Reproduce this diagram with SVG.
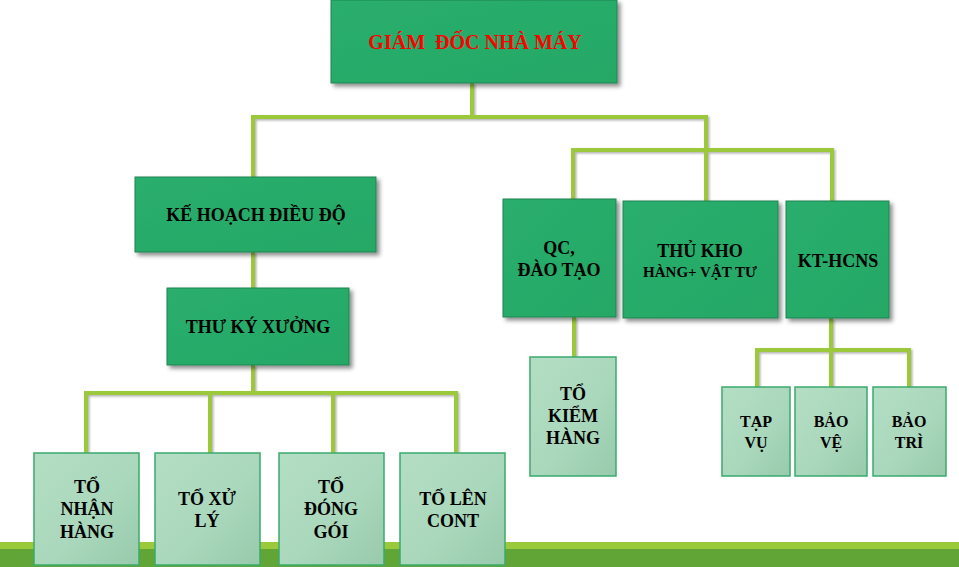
<svg xmlns="http://www.w3.org/2000/svg" width="959" height="567" viewBox="0 0 959 567">
<defs>
<linearGradient id="gDark" x1="0" y1="0" x2="1" y2="1">
<stop offset="0" stop-color="#2AAE6D"/><stop offset="1" stop-color="#25A865"/>
</linearGradient>
<linearGradient id="gLight" x1="0" y1="0" x2="1" y2="1">
<stop offset="0" stop-color="#B4DEC4"/><stop offset="0.55" stop-color="#AAD8BC"/><stop offset="1" stop-color="#98CAAC"/>
</linearGradient>
<filter id="sh" x="-10%" y="-10%" width="125%" height="130%">
<feDropShadow dx="3" dy="3" stdDeviation="2" flood-color="#000" flood-opacity="0.45"/>
</filter>
<filter id="lsh" x="-10%" y="-10%" width="120%" height="120%">
<feDropShadow dx="1.5" dy="1.5" stdDeviation="1" flood-color="#000" flood-opacity="0.3"/>
</filter>
</defs>
<style>
.dk{fill:url(#gDark);stroke:#1F8352;stroke-width:1;filter:url(#sh)}
.lt{fill:url(#gLight);stroke:#3AAA6E;stroke-width:1.5}
.t{font-family:"Liberation Serif","Times New Roman",serif;font-weight:bold;fill:#000;text-anchor:middle;dominant-baseline:central}
.c{fill:none;stroke:#9BC93B;stroke-width:4;stroke-linejoin:miter}
</style>
<rect width="959" height="567" fill="#fff"/>
<rect x="0" y="542" width="959" height="7" fill="#9ACA3C"/>
<rect x="0" y="549" width="959" height="18" fill="#62A537"/>
<g id="connectors" filter="url(#lsh)">
<path class="c" d="M472 83V117M253 177V117H706V201"/>
<path class="c" d="M573 199V150H832V201"/>
<path class="c" d="M253 252V288M253 365V393M86 453V393H456V453M210 393V453M333 393V453"/>
<path class="c" d="M574 317V357"/>
<path class="c" d="M831 318V387M757 387V350H909V387"/>
</g>
<g id="giam-doc">
<rect class="dk" x="331" y="0" width="286" height="83"/>
<text class="t" x="475" y="42" font-size="20" fill="#FF0000" style="fill:#FF0000" xml:space="preserve">GIÁM  ĐỐC NHÀ MÁY</text>
</g>
<g id="ke-hoach">
<rect class="dk" x="135" y="177" width="241" height="75"/>
<text class="t" x="256" y="215" font-size="18">KẾ HOẠCH ĐIỀU ĐỘ</text>
</g>
<g id="thu-ky">
<rect class="dk" x="167" y="288" width="182" height="77"/>
<text class="t" x="258" y="327" font-size="18">THƯ KÝ XƯỞNG</text>
</g>
<g id="qc">
<rect class="dk" x="503" y="199" width="113" height="118"/>
<text class="t" x="559" y="248" font-size="18">QC,</text>
<text class="t" x="559" y="270" font-size="18">ĐÀO TẠO</text>
</g>
<g id="thu-kho">
<rect class="dk" x="623" y="201" width="155" height="117"/>
<text class="t" x="700" y="251" font-size="18">THỦ KHO</text>
<text class="t" x="700" y="272" font-size="15">HÀNG+ VẬT TƯ</text>
</g>
<g id="kt-hcns">
<rect class="dk" x="786" y="201" width="103" height="117"/>
<text class="t" x="838" y="261" font-size="18">KT-HCNS</text>
</g>
<g id="to-nhan-hang">
<rect class="lt" x="34" y="453" width="105" height="112"/>
<text class="t" x="87" y="487" font-size="18">TỔ</text>
<text class="t" x="87" y="509" font-size="18">NHẬN</text>
<text class="t" x="87" y="532" font-size="18">HÀNG</text>
</g>
<g id="to-xu-ly">
<rect class="lt" x="155" y="453" width="105" height="112"/>
<text class="t" x="207" y="499" font-size="18">TỔ XỬ</text>
<text class="t" x="207" y="521" font-size="18">LÝ</text>
</g>
<g id="to-dong-goi">
<rect class="lt" x="279" y="453" width="105" height="112"/>
<text class="t" x="331" y="487" font-size="18">TỔ</text>
<text class="t" x="331" y="509" font-size="18">ĐÓNG</text>
<text class="t" x="331" y="532" font-size="18">GÓI</text>
</g>
<g id="to-len-cont">
<rect class="lt" x="400" y="453" width="105" height="112"/>
<text class="t" x="453" y="499" font-size="18">TỔ LÊN</text>
<text class="t" x="453" y="521" font-size="18">CONT</text>
</g>
<g id="to-kiem-hang">
<rect class="lt" x="530" y="357" width="86" height="119"/>
<text class="t" x="573" y="394" font-size="18">TỔ</text>
<text class="t" x="573" y="416" font-size="18">KIỂM</text>
<text class="t" x="573" y="438" font-size="18">HÀNG</text>
</g>
<g id="tap-vu">
<rect class="lt" x="722" y="387" width="68" height="89"/>
<text class="t" x="756" y="421" font-size="16">TẠP</text>
<text class="t" x="756" y="442" font-size="16">VỤ</text>
</g>
<g id="bao-ve">
<rect class="lt" x="795" y="387" width="72" height="89"/>
<text class="t" x="831" y="421" font-size="16">BẢO</text>
<text class="t" x="831" y="442" font-size="16">VỆ</text>
</g>
<g id="bao-tri">
<rect class="lt" x="873" y="387" width="73" height="89"/>
<text class="t" x="909" y="421" font-size="16">BẢO</text>
<text class="t" x="909" y="442" font-size="16">TRÌ</text>
</g>
</svg>
